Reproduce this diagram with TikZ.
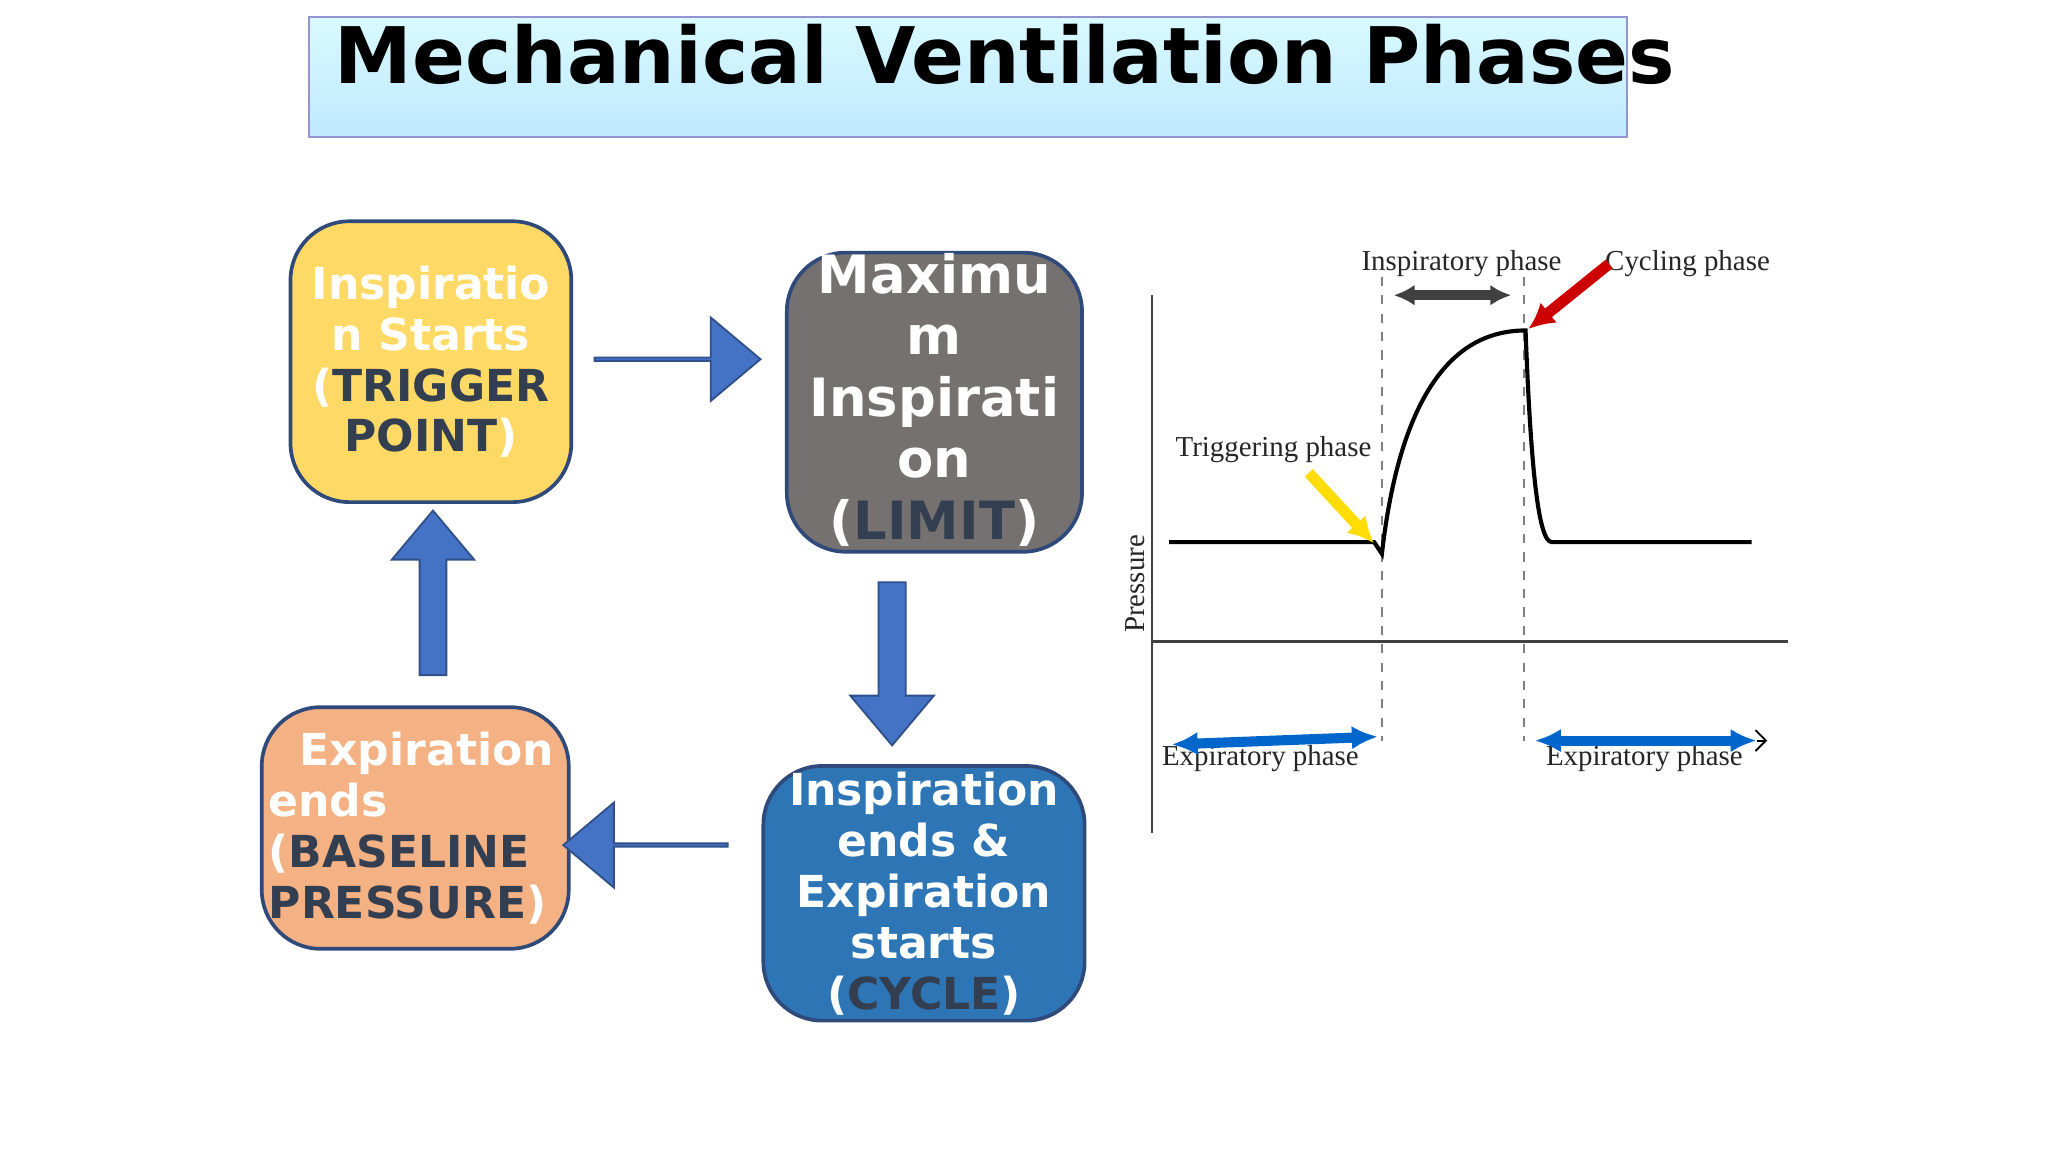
\documentclass[tikz,border=0pt]{standalone}
\usepackage{fontspec}
\setmainfont{DejaVu Sans}
\newfontfamily\serifx{Liberation Serif}
\usetikzlibrary{shapes.arrows,arrows.meta}
\definecolor{dk}{HTML}{333F50}
\definecolor{bord}{HTML}{2F4A7A}
\definecolor{arr}{HTML}{4472C4}
\tikzset{
 pbox/.style={draw=bord,line width=0.8pt,rounded corners=0.45cm,anchor=north west,inner sep=0pt,text=white,font=\bfseries},
 barrow/.style={single arrow,draw=arr!70!black,fill=arr,line width=0.4pt,inner sep=0pt,single arrow head extend=0.17cm,single arrow tip angle=80},
 lbl/.style={font=\serifx\fontsize{6.3}{7}\selectfont,text=black!85},
}
\newcommand{\dk}[1]{\textcolor{dk}{#1}}
\begin{document}
\begin{tikzpicture}[x=1cm,y=1cm]
\useasboundingbox (0,0) rectangle (15.68,-8.82);
\fill[white] (0,0) rectangle (15.68,-8.82);
% title
\node[draw=blue!40!gray!60,fill=blue!30!cyan!20,top color=blue!15!cyan!15,bottom color=blue!35!cyan!25,minimum width=10.09cm,minimum height=0.92cm,anchor=north west,inner sep=0pt] (tb) at (2.36,-0.12) {};
\node[anchor=west,font=\bfseries\fontsize{17}{20}\selectfont] (title) at (2.44,-0.42) {Mechanical Ventilation Phases};
% boxes
\node[pbox,fill=yellow!60!orange!55,fill={rgb,255:red,255;green,217;blue,102},minimum width=2.15cm,minimum height=2.15cm] (y) at (2.21,-1.68) {};
\node[font=\bfseries\fontsize{9.6}{11.1}\selectfont,text=white,align=center] (yt) at (y.center) {Inspiratio\\n Starts\\(\dk{TRIGGER}\\\dk{POINT})};
\node[pbox,fill={rgb,255:red,118;green,113;blue,113},minimum width=2.26cm,minimum height=2.29cm] (g) at (6.01,-1.92) {};
\node[font=\bfseries\fontsize{11.5}{13.4}\selectfont,text=white,align=center] (gt) at ([yshift=0.02cm]g.center) {Maximu\\m\\Inspirati\\on\\(\dk{LIMIT})};
\node[pbox,fill={rgb,255:red,46;green,117;blue,182},minimum width=2.46cm,minimum height=1.95cm] (b) at (5.83,-5.85) {};
\node[font=\bfseries\fontsize{9.6}{11.1}\selectfont,text=white,align=center] (bt) at (b.center) {Inspiration\\ends \&\\Expiration\\starts\\(\dk{CYCLE})};
\node[pbox,fill={rgb,255:red,244;green,177;blue,131},minimum width=2.35cm,minimum height=1.85cm] (o) at (1.99,-5.40) {};
\node[font=\bfseries\fontsize{9.6}{11.1}\selectfont,text=white,align=left] (ot) at ([xshift=-0.03cm]o.center) {\ \ Expiration\\ends\\(\dk{BASELINE}\\\dk{PRESSURE})};
% block arrows
\node[barrow,minimum height=1.27cm,minimum width=0.64cm,text width=0.15cm] (a1) at (5.18,-2.75) {};
\node[barrow,shape border rotate=270,minimum height=1.25cm,minimum width=0.64cm,text width=0.15cm] (a2) at (6.83,-5.02) {};
\node[barrow,shape border rotate=180,minimum height=1.26cm,minimum width=0.65cm,text width=0.15cm] (a3) at (4.95,-6.47) {};
\node[barrow,shape border rotate=90,minimum height=1.26cm,minimum width=0.63cm,text width=0.15cm] (a4) at (3.315,-4.60) {};
% graph
\coordinate (yt0) at (8.82,-2.26); \coordinate (yb0) at (8.82,-6.38);
\coordinate (xl) at (8.82,-4.91); \coordinate (xr) at (13.69,-4.91);
\draw[black!75,line width=0.6pt] (yt0) -- (yb0);
\draw[black!75,line width=0.6pt] (xl) -- (xr);
\coordinate (d1t) at (10.58,-2.12); \coordinate (d1b) at (10.58,-5.67);
\coordinate (d2t) at (11.67,-2.12); \coordinate (d2b) at (11.67,-5.67);
\draw[black!50,dashed,line width=0.4pt,dash pattern=on 2pt off 2pt] (d1t) -- (d1b);
\draw[black!50,dashed,line width=0.4pt,dash pattern=on 2pt off 2pt] (d2t) -- (d2b);
\coordinate (c0) at (8.95,-4.15); \coordinate (c1) at (10.52,-4.15);
\coordinate (c2) at (10.58,-4.24); \coordinate (c3) at (11.68,-2.53);
\coordinate (c4) at (11.88,-4.15); \coordinate (c5) at (13.41,-4.15);
\draw[line width=0.9pt] (c0) -- (c1) -- (c2) .. controls (10.75,-2.75) and (11.3,-2.53) .. (c3)
  .. controls (11.72,-3.6) and (11.78,-4.15) .. (c4) -- (c5);
\node[lbl] (l1) at (11.19,-2.02) {Inspiratory phase};
\node[lbl] (l2) at (12.92,-2.02) {Cycling phase};
\node[lbl] (l3) at (9.75,-3.44) {Triggering phase};
\node[lbl,rotate=90] (l4) at (8.69,-4.47) {Pressure};
\node[lbl] (l5) at (9.65,-5.81) {Expiratory phase};
\node[lbl] (l6) at (12.59,-5.81) {Expiratory phase};
\coordinate (ia) at (10.67,-2.26); \coordinate (ib) at (11.57,-2.26);
\draw[{Latex[length=0.16cm,width=0.16cm]}-{Latex[length=0.16cm,width=0.16cm]},line width=2.2pt,black!75] (ia) -- (ib);
\coordinate (ra) at (12.32,-2.02); \coordinate (rb) at (11.70,-2.52);
\draw[-{Latex[length=0.2cm,width=0.2cm]},line width=2.4pt,red!80!black] (ra) -- (rb);
\coordinate (ya) at (10.02,-3.62); \coordinate (yb) at (10.52,-4.16);
\draw[-{Latex[length=0.2cm,width=0.2cm]},line width=2.4pt,yellow!80!orange] (ya) -- (yb);
\coordinate (e1a) at (8.97,-5.70); \coordinate (e1b) at (10.55,-5.64);
\draw[{Latex[length=0.2cm,width=0.18cm]}-{Latex[length=0.2cm,width=0.18cm]},line width=2.2pt,blue!50!cyan!80!black] (e1a) -- (e1b);
\coordinate (e2a) at (11.75,-5.67); \coordinate (e2b) at (13.45,-5.67);
\coordinate (e2c) at (13.53,-5.67);
\draw[-{Straight Barb[length=0.08cm]},line width=0.4pt] (e2b) -- (e2c);
\draw[{Latex[length=0.2cm,width=0.18cm]}-{Latex[length=0.2cm,width=0.18cm]},line width=2.2pt,blue!50!cyan!80!black] (e2a) -- (e2b);
\end{tikzpicture}
\end{document}
